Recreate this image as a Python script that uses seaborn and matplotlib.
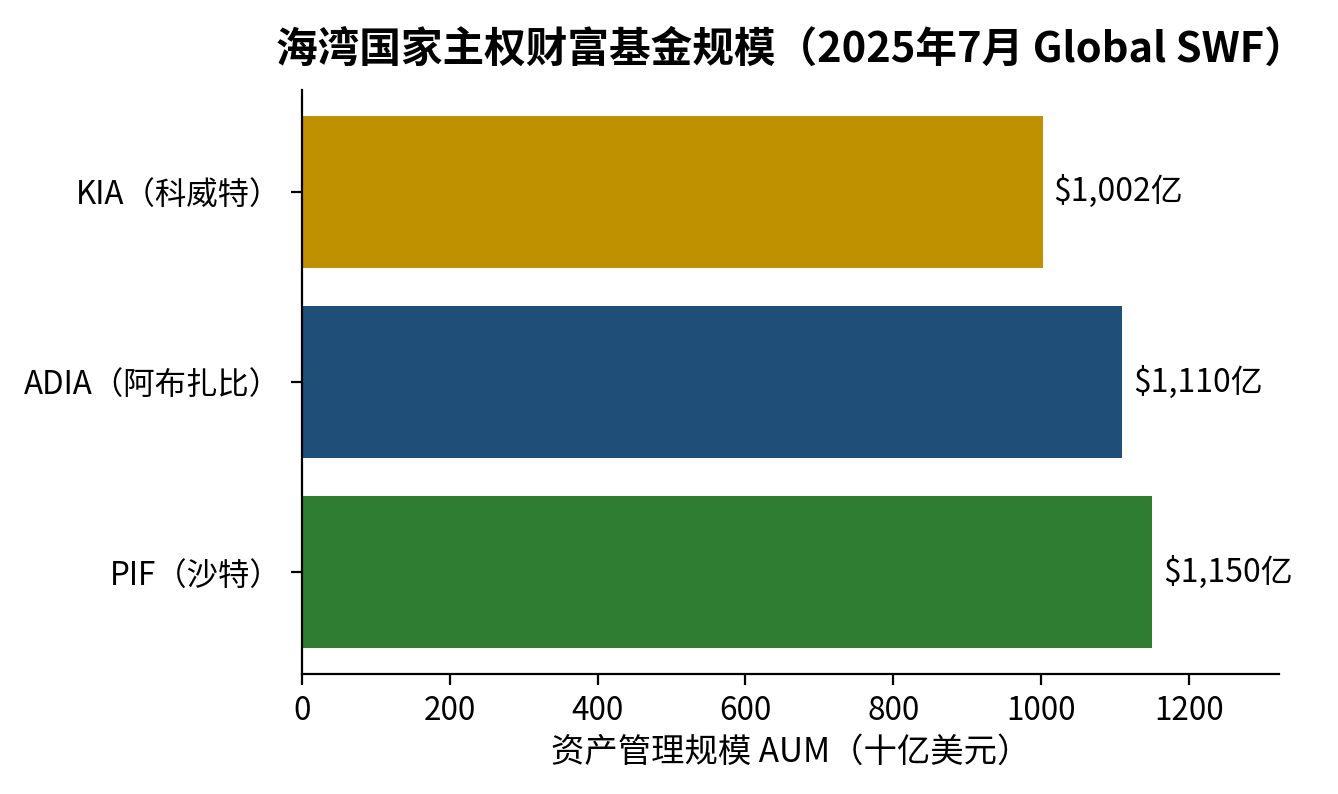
import matplotlib
matplotlib.use("Agg")
import matplotlib.pyplot as plt
import seaborn as sns
import pandas as pd

funds = ["KIA（科威特）", "ADIA（阿布扎比）", "PIF（沙特）"]
aum = [1002, 1110, 1150]
labels = ["$1,002亿", "$1,110亿", "$1,150亿"]
colors = ["#BF9000", "#1F4E79", "#2E7D32"]

sns.set_theme(style="white")
plt.rcParams["font.family"] = ["Noto Sans CJK SC", "DejaVu Sans"]
plt.rcParams["text.color"] = "black"
plt.rcParams["axes.labelcolor"] = "black"

df = pd.DataFrame({"fund": funds, "aum": aum})

fig = plt.figure(figsize=(6.69, 3.97), dpi=200)
ax = fig.add_axes([0.2257, 0.151, 0.7302, 0.736])
sns.barplot(data=df, y="fund", x="aum", hue="fund", palette=colors,
            order=funds, hue_order=funds, width=0.8, legend=False,
            saturation=1, linewidth=0, ax=ax)

for i, (v, lab) in enumerate(zip(aum, labels)):
    ax.annotate(lab.replace("$", r"\$"), xy=(v, i), xytext=(4, 0),
                textcoords="offset points", va="center", ha="left",
                fontsize=11.5, color="black")

ax.set_xlim(0, 1322)
ax.set_ylim(2.537, -0.537)
ax.set_xlabel("资产管理规模 AUM（十亿美元）", fontsize=12, color="black",
              labelpad=3)
ax.set_ylabel("")
ax.set_title("海湾国家主权财富基金规模（2025年7月 Global SWF）",
             fontsize=15, fontweight="bold", pad=10, color="black")
ax.tick_params(axis="both", labelsize=11.3, length=4, width=0.8,
               direction="out", left=True, bottom=True, colors="black")
for s in ["top", "right"]:
    ax.spines[s].set_visible(False)
for s in ["left", "bottom"]:
    ax.spines[s].set_color("black")
    ax.spines[s].set_linewidth(0.8)

fig.savefig("out.png", dpi=200)
